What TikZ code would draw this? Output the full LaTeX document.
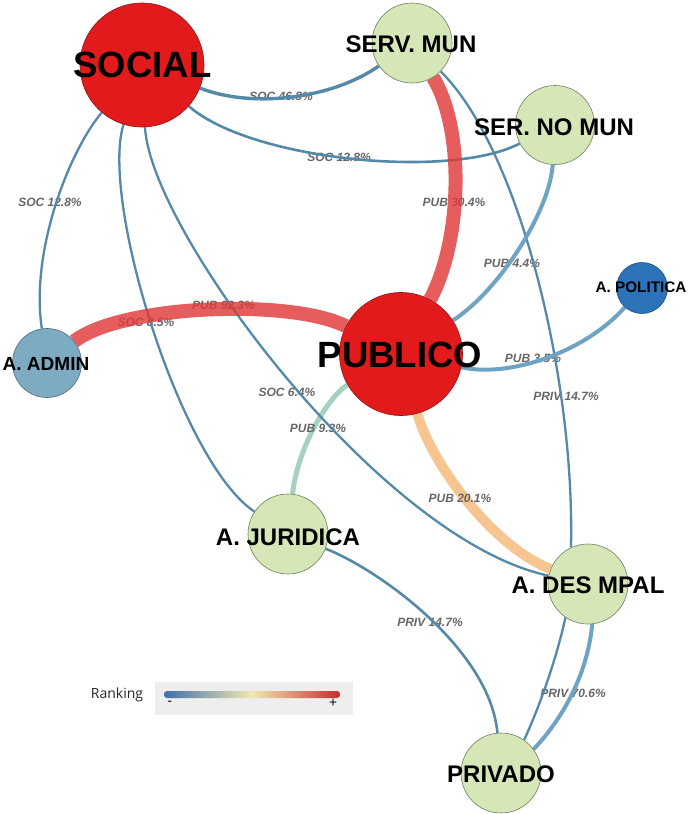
\documentclass[tikz,border=0pt]{standalone}
\usepackage{fontspec}
\setmainfont{Liberation Sans}
\newfontfamily\legendfont{Open Sans}

\definecolor{socred}{HTML}{E31A1C}
\definecolor{socrim}{HTML}{8E1515}
\definecolor{leaf}{HTML}{D5E6B7}
\definecolor{leafrim}{HTML}{6E7F62}
\definecolor{admblue}{HTML}{7DABC2}
\definecolor{admrim}{HTML}{4A6A7A}
\definecolor{polblue}{HTML}{2C73B9}
\definecolor{polrim}{HTML}{1D4F80}
\definecolor{linkblue}{HTML}{5589A8}
\definecolor{linklight}{HTML}{6FA3C4}
\definecolor{hotlink}{HTML}{E03A3A}
\definecolor{warmlink}{HTML}{F7C690}
\definecolor{coollink}{HTML}{A6D0C0}
\definecolor{labgray}{HTML}{666666}
\definecolor{legbox}{HTML}{EEEEEE}
\definecolor{rkblue}{HTML}{3F70A8}
\definecolor{rkteal}{HTML}{8EB0A8}
\definecolor{rkpale}{HTML}{F0E9B2}
\definecolor{rkorange}{HTML}{E8A070}
\definecolor{rkred}{HTML}{C62E2E}

\pgfdeclarelayer{edges}
\pgfsetlayers{edges,main}

\tikzset{
  vtx/.style={circle, inner sep=0pt, line width=0.6pt},
  leafvtx/.style={vtx, fill=leaf, draw=leafrim, minimum size=80pt},
  ttl/.style={inner sep=0pt, text=black, font=\bfseries\fontsize{24}{24}\selectfont},
  bigttl/.style={inner sep=0pt, text=black, font=\bfseries\fontsize{36.5}{36.5}\selectfont},
  lbl/.style={inner sep=0pt, text=labgray, font=\bfseries\itshape\fontsize{12}{12}\selectfont},
  lnk/.style={draw=linkblue, line width=2.3pt},
  lightlnk/.style={draw=linklight, line width=4pt},
  hotlnk/.style={draw=hotlink, draw opacity=0.82, line width=14pt},
}

\begin{document}
\begin{tikzpicture}[x=1pt, y=-1pt]
\useasboundingbox (0,0) rectangle (688,814);
\begin{pgfonlayer}{edges}
  \fill[white] (0,0) rectangle (688,814);
\end{pgfonlayer}

% actor circles
\node[vtx, fill=socred, draw=socrim, minimum size=124pt] (soc) at (142,65) {};
\node[leafvtx] (smun) at (412,43) {};
\node[leafvtx, minimum size=79pt] (snm) at (555,125) {};
\node[vtx, fill=polblue, draw=polrim, minimum size=51pt] (pol) at (642,288) {};
\node[vtx, fill=socred, draw=socrim, minimum size=123pt] (pub) at (401,354) {};
\node[vtx, fill=admblue, draw=admrim, minimum size=69pt] (adm) at (47,363) {};
\node[leafvtx] (jur) at (288,534) {};
\node[leafvtx] (dmp) at (588,584) {};
\node[leafvtx] (prv) at (501,773) {};

% actor names
\node[bigttl] (socT) at (142.5,65) {SOCIAL};
\node[ttl] (smunT) at (411,44) {SERV. MUN};
\node[ttl] (snmT) at (554,127) {SER. NO MUN};
\node[inner sep=0pt, font=\bfseries\fontsize{15.3}{15.3}\selectfont] (polT) at (641,287) {A. POLITICA};
\node[bigttl] (pubT) at (400,355) {PUBLICO};
\node[inner sep=0pt, font=\bfseries\fontsize{19}{19}\selectfont] (admT) at (46,363.5) {A. ADMIN};
\node[ttl] (jurT) at (288,537) {A. JURIDICA};
\node[ttl] (dmpT) at (588,585.5) {A. DES MPAL};
\node[ttl] (prvT) at (501,774.5) {PRIVADO};

\begin{pgfonlayer}{edges}
  % pale wide links
  \draw[draw=coollink, line width=5pt] (pub) .. controls (330,395) and (298,445) .. (jur);
  \draw[draw=warmlink, line width=10pt] (pub) .. controls (430,460) and (490,545) .. (dmp);

  % link shares
  \node[lbl] (l1) at (281,96) {SOC 46.8\%};
  \node[lbl] (l2) at (339,157) {SOC 12.8\%};
  \node[lbl] (l3) at (50,202) {SOC 12.8\%};
  \node[lbl] (l4) at (454,202) {PUB 30.4\%};
  \node[lbl] (l5) at (512,263) {PUB 4.4\%};
  \node[lbl] (l6) at (223.5,305) {PUB 92.3\%};
  \node[lbl] (l7) at (146,322) {SOC 8.5\%};
  \node[lbl] (l8) at (287,392) {SOC 6.4\%};
  \node[lbl] (l9) at (318,428) {PUB 9.3\%};
  \node[lbl] (l10) at (533,358) {PUB 3.5\%};
  \node[lbl] (l11) at (566,396) {PRIV 14.7\%};
  \node[lbl] (l12) at (460,498) {PUB 20.1\%};
  \node[lbl] (l13) at (430,622) {PRIV 14.7\%};
  \node[lbl] (l14) at (573,693) {PRIV 70.6\%};

  % thin links
  \draw[lnk, line width=3.4pt] (soc) .. controls (250,108) and (330,100) .. (smun);
  \draw[lnk, line width=2.6pt] (soc) .. controls (250,160) and (450,180) .. (snm);
  \draw[lnk] (soc) .. controls (70,150) and (30,250) .. (adm);
  \draw[lnk] (soc) .. controls (100,200) and (180,462) .. (jur);
  \draw[lnk] (soc) .. controls (150,230) and (380,540) .. (dmp);
  \draw[lnk] (smun) .. controls (520,150) and (575,380) .. (dmp.115);
  \draw[lnk, line width=2.6pt] (jur) .. controls (380,570) and (490,650) .. (prv);
  \draw[lnk] (dmp.236) .. controls (555,665) and (537,712) .. (prv.55);
  \draw[lightlnk] (dmp.276) .. controls (588,670) and (566,715) .. (prv.36);
  \draw[lightlnk] (snm) .. controls (550,210) and (500,290) .. (pub);
  \draw[lightlnk] (pub) .. controls (510,378) and (585,352) .. (pol);

  % heavy links
  \draw[hotlnk] (adm) .. controls (120,305) and (290,298) .. (pub);
  \draw[hotlnk] (smun) .. controls (465,130) and (462,240) .. (pub);
\end{pgfonlayer}

% colour scale
\fill[legbox] (155,682) rectangle (353,715);
\begin{scope}
  \clip[rounded corners=3pt] (164,691) rectangle (340,698);
  \shade[left color=rkblue, middle color=rkteal, right color=rkpale] (164,691) rectangle (252,698);
  \shade[left color=rkpale, middle color=rkorange, right color=rkred] (251.5,691) rectangle (340,698);
\end{scope}
\node[inner sep=0pt, font=\legendfont\fontsize{14}{14}\selectfont, text=black!85] (rk) at (117,695) {Ranking};
\node[inner sep=0pt, font=\legendfont\fontsize{14}{14}\selectfont] (rkmin) at (170,703) {-};
\node[inner sep=0pt, font=\legendfont\fontsize{14}{14}\selectfont] (rkmax) at (333,703) {+};
\end{tikzpicture}
\end{document}
